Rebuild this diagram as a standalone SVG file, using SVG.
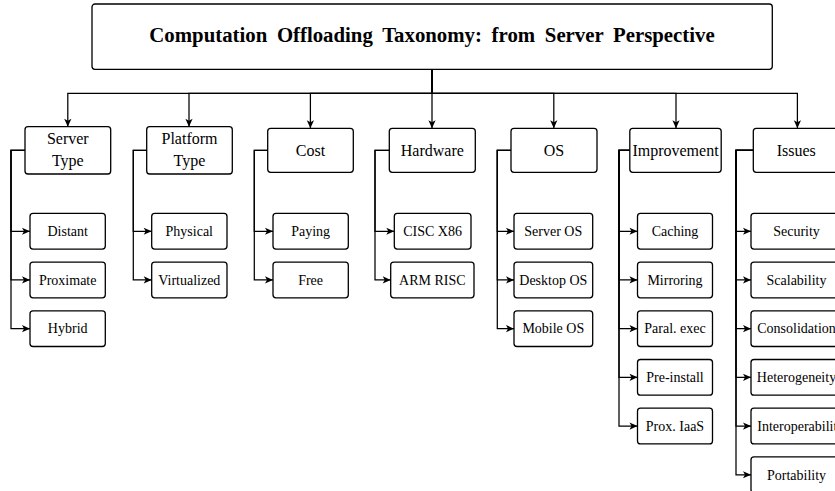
<svg xmlns="http://www.w3.org/2000/svg" width="835" height="491" viewBox="0 0 835 491">
<style>
  .box { fill: #ffffff; stroke: #000000; stroke-width: 1.3; }
  .conn { fill: none; stroke: #000000; stroke-width: 1.25; marker-end: url(#arr); }
  .t1 { font-family: "Liberation Serif", "Times New Roman", serif; font-size: 16px; fill: #000; text-anchor: middle; }
  .t2 { font-family: "Liberation Serif", "Times New Roman", serif; font-size: 14px; fill: #000; text-anchor: middle; }
  .title { font-family: "Liberation Serif", "Times New Roman", serif; font-size: 20.8px; font-weight: bold; fill: #000; text-anchor: middle; word-spacing: 4.5px; }
</style>
<defs>
  <marker id="arr" markerUnits="userSpaceOnUse" markerWidth="10" markerHeight="8" viewBox="-9 -4 10 8" refX="0" refY="0" orient="auto">
    <path d="M0,0 L-8,-3.6 L-6,0 L-8,3.6 Z" fill="#000"/>
  </marker>
</defs>
<rect width="835" height="491" fill="#ffffff"/>

<g id="connectors">
  <!-- root to level 1 -->
  <path class="conn" d="M432,69.3 V93.3 H67.8 V126.7"/>
  <path class="conn" d="M432,69.3 V93.3 H189 V126.7"/>
  <path class="conn" d="M432,69.3 V93.3 H310.4 V128.3"/>
  <path class="conn" d="M432,69.3 V93.3 V128.3"/>
  <path class="conn" d="M432,69.3 V93.3 H553.8 V128.3"/>
  <path class="conn" d="M432,69.3 V93.3 H676 V128.3"/>
  <path class="conn" d="M432,69.3 V93.3 H797.4 V128.3"/>
  <!-- Server Type -->
  <path class="conn" d="M25,150.3 H11 V231.25 H30"/>
  <path class="conn" d="M25,150.3 H11 V279.95 H30"/>
  <path class="conn" d="M25,150.3 H11 V328.65 H30"/>
  <!-- Platform Type -->
  <path class="conn" d="M146.7,150.3 H133.3 V231.25 H151.7"/>
  <path class="conn" d="M146.7,150.3 H133.3 V279.95 H151.7"/>
  <!-- Cost -->
  <path class="conn" d="M267.7,150.3 H254.3 V231.25 H273"/>
  <path class="conn" d="M267.7,150.3 H254.3 V279.95 H273"/>
  <!-- Hardware -->
  <path class="conn" d="M389.3,150.3 H375 V231.25 H394.3"/>
  <path class="conn" d="M389.3,150.3 H375 V279.95 H390.7"/>
  <!-- OS -->
  <path class="conn" d="M511,150.3 H497.3 V231.25 H514"/>
  <path class="conn" d="M511,150.3 H497.3 V279.95 H514"/>
  <path class="conn" d="M511,150.3 H497.3 V328.65 H514"/>
  <!-- Improvement -->
  <path class="conn" d="M629.8,150.3 H619 V231.25 H637.5"/>
  <path class="conn" d="M629.8,150.3 H619 V279.95 H637.5"/>
  <path class="conn" d="M629.8,150.3 H619 V328.65 H637.5"/>
  <path class="conn" d="M629.8,150.3 H619 V377.35 H637.5"/>
  <path class="conn" d="M629.8,150.3 H619 V426.05 H637.5"/>
  <!-- Issues -->
  <path class="conn" d="M753.3,150.3 H736 V231.25 H751"/>
  <path class="conn" d="M753.3,150.3 H736 V279.95 H751"/>
  <path class="conn" d="M753.3,150.3 H736 V328.65 H751"/>
  <path class="conn" d="M753.3,150.3 H736 V377.35 H751"/>
  <path class="conn" d="M753.3,150.3 H736 V426.05 H751"/>
  <path class="conn" d="M753.3,150.3 H736 V474.75 H751"/>
</g>

<g id="root">
  <rect class="box" x="92" y="4" width="680.3" height="65.3" rx="3"/>
  <text class="title" x="432" y="42.3">Computation Offloading Taxonomy: from Server Perspective</text>
</g>

<g id="server-type">
  <rect class="box" x="25" y="126.7" width="85.7" height="47.3" rx="3"/>
  <text class="t1" x="67.8" y="144.3">Server</text>
  <text class="t1" x="67.8" y="165.5">Type</text>
</g>
<g id="platform-type">
  <rect class="box" x="146.7" y="126.7" width="85.6" height="47.3" rx="3"/>
  <text class="t1" x="189.5" y="144.3">Platform</text>
  <text class="t1" x="189.5" y="165.5">Type</text>
</g>
<g id="cost">
  <rect class="box" x="267.7" y="128.3" width="85.6" height="44" rx="3"/>
  <text class="t1" x="310.5" y="156">Cost</text>
</g>
<g id="hardware">
  <rect class="box" x="389.3" y="128.3" width="86" height="44" rx="3"/>
  <text class="t1" x="432.3" y="156">Hardware</text>
</g>
<g id="os">
  <rect class="box" x="511" y="128.3" width="86" height="44" rx="3"/>
  <text class="t1" x="554" y="156">OS</text>
</g>
<g id="improvement">
  <rect class="box" x="629.8" y="128.3" width="91.4" height="44" rx="3"/>
  <text class="t1" x="675.5" y="156">Improvement</text>
</g>
<g id="issues">
  <rect class="box" x="753.3" y="128.3" width="86" height="44" rx="3"/>
  <text class="t1" x="796.3" y="156">Issues</text>
</g>

<g id="distant"><rect class="box" x="30" y="213.4" width="75.3" height="35.7" rx="3"/><text class="t2" x="67.7" y="236">Distant</text></g>
<g id="proximate"><rect class="box" x="30" y="262.1" width="75.3" height="35.7" rx="3"/><text class="t2" x="67.7" y="284.7">Proximate</text></g>
<g id="hybrid"><rect class="box" x="30" y="310.8" width="75.3" height="35.7" rx="3"/><text class="t2" x="67.7" y="333.4">Hybrid</text></g>

<g id="physical"><rect class="box" x="151.7" y="213.4" width="75.3" height="35.7" rx="3"/><text class="t2" x="189.3" y="236">Physical</text></g>
<g id="virtualized"><rect class="box" x="151.7" y="262.1" width="75.3" height="35.7" rx="3"/><text class="t2" x="189.3" y="284.7">Virtualized</text></g>

<g id="paying"><rect class="box" x="273" y="213.4" width="75.3" height="35.7" rx="3"/><text class="t2" x="310.6" y="236">Paying</text></g>
<g id="free"><rect class="box" x="273" y="262.1" width="75.3" height="35.7" rx="3"/><text class="t2" x="310.6" y="284.7">Free</text></g>

<g id="cisc"><rect class="box" x="394.3" y="213.4" width="76.7" height="35.7" rx="3"/><text class="t2" x="432.6" y="236">CISC X86</text></g>
<g id="arm"><rect class="box" x="390.7" y="262.1" width="83.3" height="35.7" rx="3"/><text class="t2" x="432.3" y="284.7">ARM RISC</text></g>

<g id="server-os"><rect class="box" x="514" y="213.4" width="78.7" height="35.7" rx="3"/><text class="t2" x="553.3" y="236">Server OS</text></g>
<g id="desktop-os"><rect class="box" x="514" y="262.1" width="78.7" height="35.7" rx="3"/><text class="t2" x="553.3" y="284.7">Desktop OS</text></g>
<g id="mobile-os"><rect class="box" x="514" y="310.8" width="78.7" height="35.7" rx="3"/><text class="t2" x="553.3" y="333.4">Mobile OS</text></g>

<g id="caching"><rect class="box" x="637.5" y="213.4" width="75" height="35.7" rx="3"/><text class="t2" x="675" y="236">Caching</text></g>
<g id="mirroring"><rect class="box" x="637.5" y="262.1" width="75" height="35.7" rx="3"/><text class="t2" x="675" y="284.7">Mirroring</text></g>
<g id="paral-exec"><rect class="box" x="637.5" y="310.8" width="75" height="35.7" rx="3"/><text class="t2" x="675" y="333.4">Paral. exec</text></g>
<g id="pre-install"><rect class="box" x="637.5" y="359.5" width="75" height="35.7" rx="3"/><text class="t2" x="675" y="382.1">Pre-install</text></g>
<g id="prox-iaas"><rect class="box" x="637.5" y="408.2" width="75" height="35.7" rx="3"/><text class="t2" x="675" y="430.8">Prox. IaaS</text></g>

<g id="security"><rect class="box" x="751" y="213.4" width="91" height="35.7" rx="3"/><text class="t2" x="796.5" y="236">Security</text></g>
<g id="scalability"><rect class="box" x="751" y="262.1" width="91" height="35.7" rx="3"/><text class="t2" x="796.5" y="284.7">Scalability</text></g>
<g id="consolidation"><rect class="box" x="751" y="310.8" width="91" height="35.7" rx="3"/><text class="t2" x="796.5" y="333.4">Consolidation</text></g>
<g id="heterogeneity"><rect class="box" x="751" y="359.5" width="91" height="35.7" rx="3"/><text class="t2" x="796.5" y="382.1">Heterogeneity</text></g>
<g id="interoperability"><rect class="box" x="751" y="408.2" width="91" height="35.7" rx="3"/><text class="t2" x="757.3" y="430.8" style="text-anchor:start">Interoperability</text></g>
<g id="portability"><rect class="box" x="751" y="456.9" width="91" height="35.7" rx="3"/><text class="t2" x="796.5" y="479.5">Portability</text></g>
</svg>
